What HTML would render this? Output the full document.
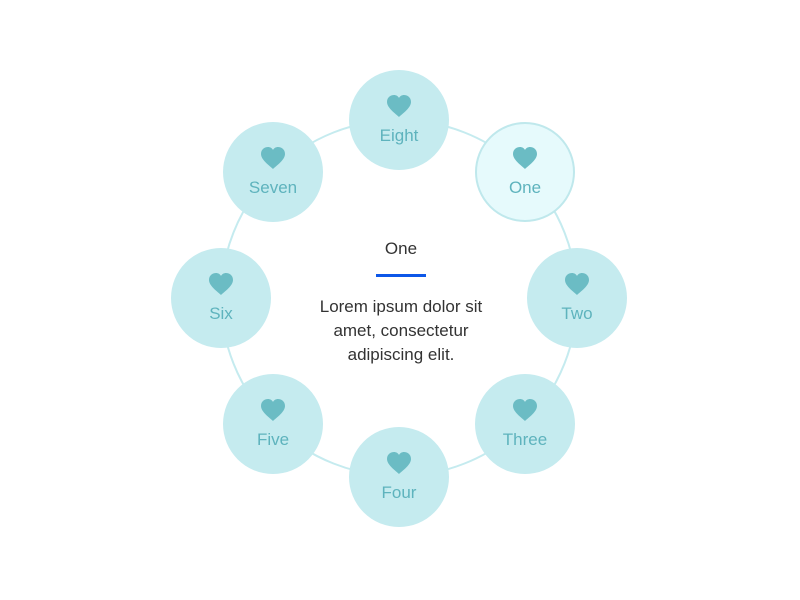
<!DOCTYPE html>
<html><head><meta charset="utf-8"><style>
html,body{margin:0;padding:0;background:#fff;}
svg{display:block;font-family:"Liberation Sans",sans-serif;}
</style></head><body>
<svg width="800" height="600" viewBox="0 0 800 600">
<defs>
<path id="h" d="M0,10 C-3,7 -12,1 -12,-5 C-12,-10 -8,-12 -5,-12 C-3,-12 -1,-11 0,-9 C1,-11 3,-12 5,-12 C8,-12 12,-10 12,-5 C12,1 3,7 0,10Z" fill="#6bbcc4"/>
</defs>
<circle cx="399" cy="298" r="178" fill="none" stroke="#c5ebef" stroke-width="2"/>
<g text-anchor="middle" font-size="17" fill="#5eb3bd">
<g transform="translate(399,120)"><circle r="50" fill="#c5ebef"/><use href="#h" y="-13"/><text y="21">Eight</text></g>
<g transform="translate(525,172)"><circle r="49" fill="#e6fafc" stroke="#bfe8ec" stroke-width="2"/><use href="#h" y="-13"/><text y="21">One</text></g>
<g transform="translate(577,298)"><circle r="50" fill="#c5ebef"/><use href="#h" y="-13"/><text y="21">Two</text></g>
<g transform="translate(525,424)"><circle r="50" fill="#c5ebef"/><use href="#h" y="-13"/><text y="21">Three</text></g>
<g transform="translate(399,477)"><circle r="50" fill="#c5ebef"/><use href="#h" y="-13"/><text y="21">Four</text></g>
<g transform="translate(273,424)"><circle r="50" fill="#c5ebef"/><use href="#h" y="-13"/><text y="21">Five</text></g>
<g transform="translate(221,298)"><circle r="50" fill="#c5ebef"/><use href="#h" y="-13"/><text y="21">Six</text></g>
<g transform="translate(273,172)"><circle r="50" fill="#c5ebef"/><use href="#h" y="-13"/><text y="21">Seven</text></g>
</g>
<g text-anchor="middle" font-size="17" fill="#333">
<text x="401" y="254">One</text>
<rect x="376" y="274" width="50" height="3" fill="#0d57e8"/>
<text x="401" y="312">Lorem ipsum dolor sit</text>
<text x="401" y="336">amet, consectetur</text>
<text x="401" y="360">adipiscing elit.</text>
</g>
</svg>
</body></html>
